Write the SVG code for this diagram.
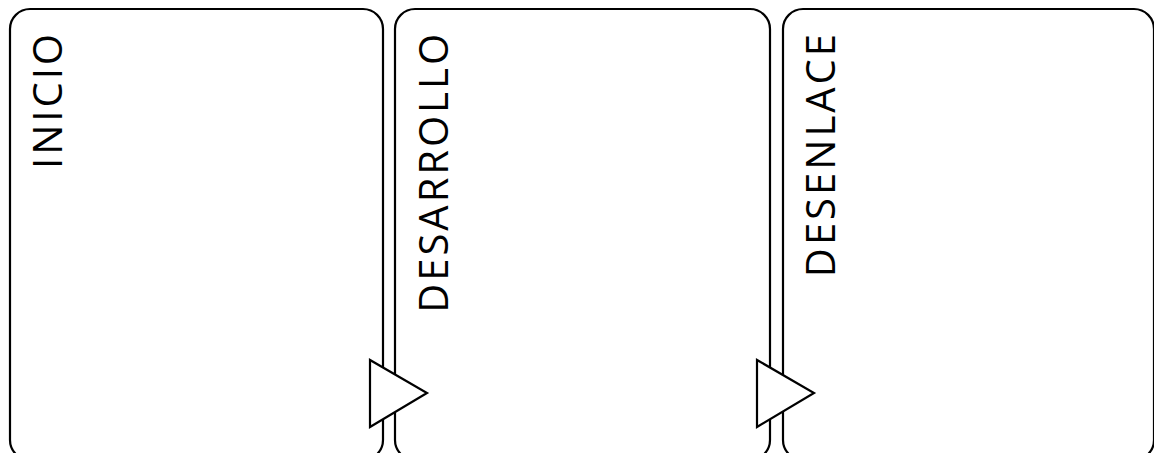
<svg xmlns="http://www.w3.org/2000/svg" width="1154" height="453" viewBox="0 0 1154 453">
<style>
.panel{fill:#fff;stroke:#000;stroke-width:2.2}
.tri{fill:#fff;stroke:#000;stroke-width:2.2;stroke-linejoin:miter}
.lbl{font-family:"Open Sans","Noto Sans",sans-serif;font-size:40px;letter-spacing:3px;fill:#000;text-anchor:end}
</style>
<rect width="1154" height="453" fill="#fff"/>
<g id="inicio">
<rect class="panel" x="10" y="9" width="373" height="451" rx="20" ry="20"/>
<text class="lbl" transform="translate(62,31) rotate(-90)">INICIO</text>
</g>
<g id="desarrollo">
<rect class="panel" x="395" y="9" width="375" height="451" rx="20" ry="20"/>
<text class="lbl" transform="translate(448,31) rotate(-90)">DESARROLLO</text>
</g>
<g id="desenlace">
<rect class="panel" x="783" y="9" width="371" height="451" rx="20" ry="20"/>
<text class="lbl" transform="translate(835,31) rotate(-90)">DESENLACE</text>
</g>
<g id="connectors">
<polygon class="tri" points="370,360 370,427 427,393"/>
<polygon class="tri" points="757,360 757,427 814,393"/>
</g>
</svg>
